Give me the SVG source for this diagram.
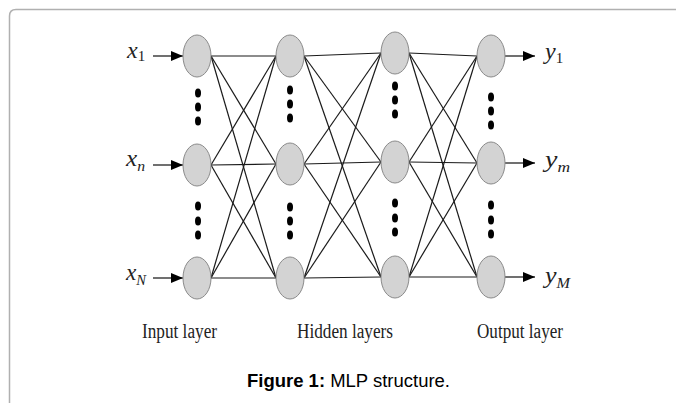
<svg xmlns="http://www.w3.org/2000/svg" width="676" height="403" viewBox="0 0 676 403">
  <defs>
    <marker id="arr" viewBox="0 0 12 10" refX="12" refY="5" markerWidth="12" markerHeight="10" markerUnits="userSpaceOnUse" orient="auto">
      <path d="M0,0 L12,5 L0,10 Z" fill="#000"/>
    </marker>
    <style>
      .node { fill: #d3d3d3; stroke: #8a8a8a; stroke-width: 1; }
      .edge { stroke: #1a1a1a; stroke-width: 1.2; fill: none; }
      .io { stroke: #222; stroke-width: 1.3; fill: none; marker-end: url(#arr); }
      .dot { fill: #000; }
      .var { font-family: "Liberation Serif", serif; font-style: italic; font-size: 24px; fill: #222; }
      .sub { font-size: 15px; }
      .up { font-style: normal; }
      .lab { font-family: "Liberation Serif", serif; font-size: 20px; fill: #222; }
      .cap { font-family: "Liberation Sans", Arial, sans-serif; font-size: 17.5px; fill: #000; }
    </style>
  </defs>
  <rect width="676" height="403" fill="#fff"/>
  <path d="M9.5,403 L9.5,16 Q9.5,9.5 16,9.5 L676,9.5" fill="none" stroke="#b0b0b0" stroke-width="1.5"/>

  <g id="connectors">
    <!-- L1 -> L2 -->
    <line class="edge" x1="211" y1="56" x2="276" y2="56"/>
    <line class="edge" x1="211" y1="56" x2="276" y2="164"/>
    <line class="edge" x1="211" y1="56" x2="276" y2="278"/>
    <line class="edge" x1="211" y1="165" x2="276" y2="56"/>
    <line class="edge" x1="211" y1="165" x2="276" y2="164"/>
    <line class="edge" x1="211" y1="165" x2="276" y2="278"/>
    <line class="edge" x1="211" y1="278" x2="276" y2="56"/>
    <line class="edge" x1="211" y1="278" x2="276" y2="164"/>
    <line class="edge" x1="211" y1="278" x2="276" y2="278"/>
    <!-- L2 -> L3 -->
    <line class="edge" x1="304" y1="56" x2="381" y2="53"/>
    <line class="edge" x1="304" y1="56" x2="381" y2="162"/>
    <line class="edge" x1="304" y1="56" x2="381" y2="277"/>
    <line class="edge" x1="304" y1="164" x2="381" y2="53"/>
    <line class="edge" x1="304" y1="164" x2="381" y2="162"/>
    <line class="edge" x1="304" y1="164" x2="381" y2="277"/>
    <line class="edge" x1="304" y1="278" x2="381" y2="53"/>
    <line class="edge" x1="304" y1="278" x2="381" y2="162"/>
    <line class="edge" x1="304" y1="278" x2="381" y2="277"/>
    <!-- L3 -> L4 -->
    <line class="edge" x1="409" y1="53" x2="477" y2="56"/>
    <line class="edge" x1="409" y1="53" x2="477" y2="163"/>
    <line class="edge" x1="409" y1="53" x2="477" y2="277"/>
    <line class="edge" x1="409" y1="162" x2="477" y2="56"/>
    <line class="edge" x1="409" y1="162" x2="477" y2="163"/>
    <line class="edge" x1="409" y1="162" x2="477" y2="277"/>
    <line class="edge" x1="409" y1="277" x2="477" y2="56"/>
    <line class="edge" x1="409" y1="277" x2="477" y2="163"/>
    <line class="edge" x1="409" y1="277" x2="477" y2="277"/>
    <!-- inputs -->
    <line class="io" x1="153" y1="56" x2="183" y2="56"/>
    <line class="io" x1="153" y1="165" x2="183" y2="165"/>
    <line class="io" x1="153" y1="278" x2="183" y2="278"/>
    <!-- outputs -->
    <line class="io" x1="505" y1="56" x2="535" y2="56"/>
    <line class="io" x1="505" y1="163" x2="535" y2="163"/>
    <line class="io" x1="505" y1="277" x2="535" y2="277"/>
  </g>

  <g id="input-layer">
    <g id="in1"><ellipse class="node" cx="197" cy="56" rx="14" ry="21"/></g>
    <g id="inn"><ellipse class="node" cx="197" cy="165" rx="14" ry="21"/></g>
    <g id="inN"><ellipse class="node" cx="197" cy="278" rx="14" ry="21"/></g>
    <g id="in-dots">
      <ellipse class="dot" cx="198" cy="93" rx="3" ry="4.5"/>
      <ellipse class="dot" cx="198" cy="107" rx="3" ry="4.5"/>
      <ellipse class="dot" cx="198" cy="121" rx="3" ry="4.5"/>
      <ellipse class="dot" cx="198" cy="206" rx="3" ry="4.5"/>
      <ellipse class="dot" cx="198" cy="221" rx="3" ry="4.5"/>
      <ellipse class="dot" cx="198" cy="235" rx="3" ry="4.5"/>
    </g>
  </g>

  <g id="hidden-layer-1">
    <g id="h1a"><ellipse class="node" cx="290" cy="56" rx="14" ry="21"/></g>
    <g id="h1b"><ellipse class="node" cx="290" cy="164" rx="14" ry="21"/></g>
    <g id="h1c"><ellipse class="node" cx="290" cy="278" rx="14" ry="21"/></g>
    <g id="h1-dots">
      <ellipse class="dot" cx="290" cy="90" rx="3" ry="4.5"/>
      <ellipse class="dot" cx="290" cy="104" rx="3" ry="4.5"/>
      <ellipse class="dot" cx="290" cy="118" rx="3" ry="4.5"/>
      <ellipse class="dot" cx="290" cy="207" rx="3" ry="4.5"/>
      <ellipse class="dot" cx="290" cy="221" rx="3" ry="4.5"/>
      <ellipse class="dot" cx="290" cy="235" rx="3" ry="4.5"/>
    </g>
  </g>

  <g id="hidden-layer-2">
    <g id="h2a"><ellipse class="node" cx="395" cy="53" rx="14" ry="21"/></g>
    <g id="h2b"><ellipse class="node" cx="395" cy="162" rx="14" ry="21"/></g>
    <g id="h2c"><ellipse class="node" cx="395" cy="277" rx="14" ry="21"/></g>
    <g id="h2-dots">
      <ellipse class="dot" cx="395" cy="86" rx="3" ry="4.5"/>
      <ellipse class="dot" cx="395" cy="100" rx="3" ry="4.5"/>
      <ellipse class="dot" cx="395" cy="114" rx="3" ry="4.5"/>
      <ellipse class="dot" cx="395" cy="203" rx="3" ry="4.5"/>
      <ellipse class="dot" cx="395" cy="218" rx="3" ry="4.5"/>
      <ellipse class="dot" cx="395" cy="232" rx="3" ry="4.5"/>
    </g>
  </g>

  <g id="output-layer">
    <g id="out1"><ellipse class="node" cx="491" cy="56" rx="14" ry="21"/></g>
    <g id="outm"><ellipse class="node" cx="491" cy="163" rx="14" ry="21"/></g>
    <g id="outM"><ellipse class="node" cx="491" cy="277" rx="14" ry="21"/></g>
    <g id="out-dots">
      <ellipse class="dot" cx="491" cy="97" rx="3" ry="4.5"/>
      <ellipse class="dot" cx="491" cy="111" rx="3" ry="4.5"/>
      <ellipse class="dot" cx="491" cy="125" rx="3" ry="4.5"/>
      <ellipse class="dot" cx="491" cy="205" rx="3" ry="4.5"/>
      <ellipse class="dot" cx="491" cy="220" rx="3" ry="4.5"/>
      <ellipse class="dot" cx="491" cy="234" rx="3" ry="4.5"/>
    </g>
  </g>

  <g id="io-labels">
    <text class="var" x="127" y="58">x<tspan class="sub up" dy="3">1</tspan></text>
    <text class="var" x="126" y="166" textLength="19" lengthAdjust="spacingAndGlyphs">x<tspan class="sub" dy="5">n</tspan></text>
    <text class="var" x="126" y="280" textLength="20" lengthAdjust="spacingAndGlyphs">x<tspan class="sub" dy="5">N</tspan></text>
    <text class="var" x="545" y="59">y<tspan class="sub up" dy="4">1</tspan></text>
    <text class="var" x="545" y="167" textLength="25" lengthAdjust="spacingAndGlyphs">y<tspan class="sub" dy="5">m</tspan></text>
    <text class="var" x="545" y="283" textLength="25" lengthAdjust="spacingAndGlyphs">y<tspan class="sub" dy="5">M</tspan></text>
  </g>

  <g id="layer-labels">
    <text class="lab" x="142" y="338" textLength="75" lengthAdjust="spacingAndGlyphs">Input layer</text>
    <text class="lab" x="297" y="338" textLength="96" lengthAdjust="spacingAndGlyphs">Hidden layers</text>
    <text class="lab" x="477" y="338" textLength="86" lengthAdjust="spacingAndGlyphs">Output layer</text>
  </g>

  <g id="caption">
    <text class="cap" x="247" y="387" textLength="203" lengthAdjust="spacingAndGlyphs"><tspan font-weight="bold">Figure 1:</tspan> MLP structure.</text>
  </g>
</svg>
